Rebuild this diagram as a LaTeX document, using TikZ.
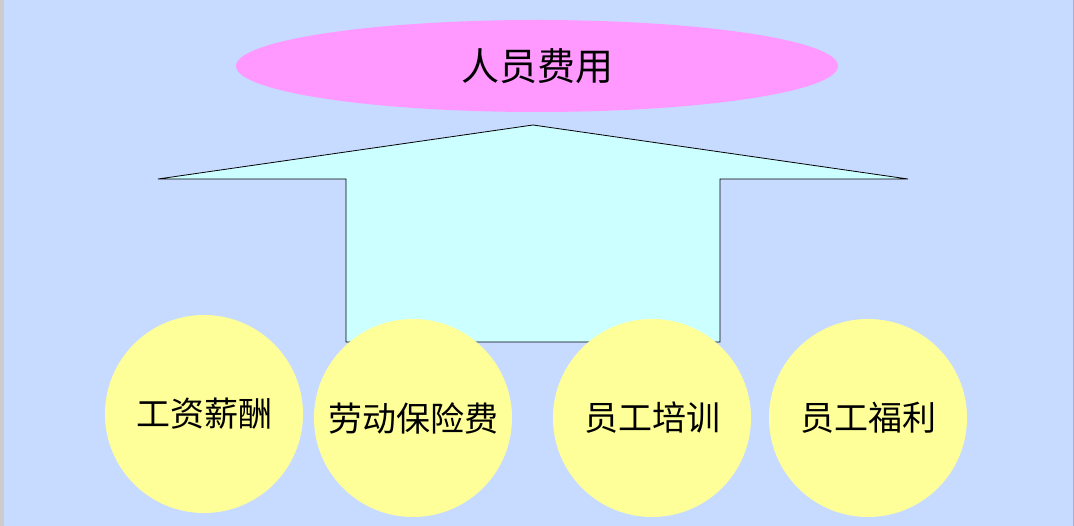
\documentclass[tikz,border=0pt]{standalone}
\usepackage{fontspec}
\usetikzlibrary{shapes.geometric}
\setmainfont{Noto Sans CJK SC}
\definecolor{bg}{HTML}{C6DBFF}
\definecolor{pinkf}{HTML}{FF99FF}
\definecolor{cyanf}{HTML}{CCFFFF}
\definecolor{yelf}{HTML}{FFFF99}
\begin{document}
\begin{tikzpicture}[x=1pt,y=-1pt,
  ball/.style={circle,fill=yelf,minimum size=198pt,inner sep=0pt,font=\fontsize{34}{38}\selectfont}]
\useasboundingbox (0,0) rectangle (1074,526);
\fill[gray!40] (0,0) rectangle (4,526);
\fill[bg] (4,0) rectangle (1074,526);
\draw[gray!60] (1073,0) -- (1073,526);
\node[ellipse,fill=pinkf,minimum width=602pt,minimum height=92pt,inner sep=0pt,font=\fontsize{38}{42}\selectfont] (top) at (537,66) {人员费用};
\draw[fill=cyanf,line width=0.8pt] (533,125) coordinate (tip) -- (908,179) -- (720,179) -- (720,342) -- (346,342) -- (346,179) -- (158,179) -- cycle;
\node[ball] (a) at (204,414) {工资薪酬};
\node[ball] (b) at (413,418) {劳动保险费};
\node[ball] (c) at (652,418) {员工培训};
\node[ball] (d) at (868,418) {员工福利};
\end{tikzpicture}
\end{document}
